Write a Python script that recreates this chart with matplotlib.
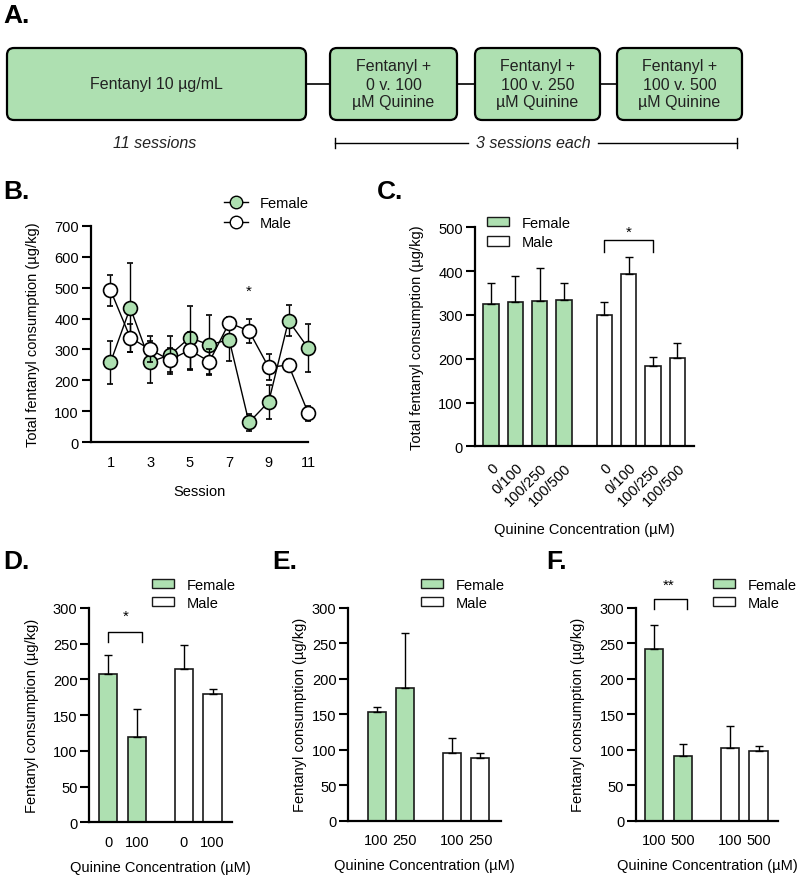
import matplotlib
matplotlib.use("Agg")
import matplotlib.pyplot as plt
from matplotlib.patches import FancyBboxPatch, Patch
from matplotlib.lines import Line2D
import numpy as np

plt.rcParams['font.family'] = ['Liberation Sans', 'DejaVu Sans']

# ---------------- data ----------------
sessions = [1, 2, 3, 4, 5, 6, 7, 8, 9, 10, 11]
b_female = [258, 435, 260, 282, 338, 315, 332, 64, 131, 393, 304]
b_female_sem = [68, 143, 68, 60, 103, 95, 70, 28, 55, 50, 78]
b_male = [492, 338, 300, 266, 298, 261, 386, 360, 242, 250, 94]
b_male_sem = [50, 45, 42, 40, 60, 42, 20, 40, 42, 20, 24]

c_labels = ['0', '0/100', '100/250', '100/500']
c_female = [326, 329, 332, 334]
c_female_sem = [47, 60, 74, 38]
c_male = [299, 394, 184, 201]
c_male_sem = [30, 39, 19, 35]

d_labels = ['0', '100']
d_female = [208, 119]
d_female_sem = [26, 40]
d_male = [215, 179]
d_male_sem = [33, 8]

e_labels = ['100', '250']
e_female = [153, 187]
e_female_sem = [8, 78]
e_male = [95, 88]
e_male_sem = [21, 8]

f_labels = ['100', '500']
f_female = [242, 91]
f_female_sem = [34, 17]
f_male = [102, 98]
f_male_sem = [32, 7]

timeline_boxes = ['Fentanyl 10 \u00b5g/mL',
                  'Fentanyl +\n0 v. 100\n\u00b5M Quinine',
                  'Fentanyl +\n100 v. 250\n\u00b5M Quinine',
                  'Fentanyl +\n100 v. 500\n\u00b5M Quinine']

GREEN = '#aee0b1'
W, H = 800, 878
fig = plt.figure(figsize=(W / 100, H / 100), dpi=100)


def px_axes(left, top, right, bottom):
    return fig.add_axes([left / W, 1 - bottom / H, (right - left) / W, (bottom - top) / H])


def fig_xy(x, y):
    return (x / W, 1 - y / H)


LETTER_FONT = ['Liberation Sans Narrow', 'Liberation Sans', 'DejaVu Sans']


def letter(x, y, s):
    fig.text(x / W, 1 - y / H, s, fontsize=19, fontweight='bold', family=LETTER_FONT,
             ha='left', va='baseline')


def style_axes(ax):
    for s in ['top', 'right']:
        ax.spines[s].set_visible(False)
    for s in ['left', 'bottom']:
        ax.spines[s].set_linewidth(1.6)
    ax.tick_params(axis='y', length=6.5, width=1.5, direction='out', pad=2, labelsize=10.5)
    ax.tick_params(axis='x', length=0, labelsize=10.5)


def place_ylabel(ax, text, x_px, left_px, right_px):
    ax.set_ylabel(text, fontsize=10.5)
    ax.yaxis.set_label_coords((x_px - left_px) / (right_px - left_px), 0.5)
    ax.yaxis.label.set_va('center')


# ---------------- Panel A: timeline ----------------
axA = fig.add_axes([0, 1 - 160 / H, 1, 160 / H])
axA.set_xlim(0, 800)
axA.set_ylim(160, 0)
axA.axis('off')
box_x = [(7, 306), (330, 457), (475, 600), (617, 742)]
top_y, bot_y = 49, 121
for (x0, x1), txt in zip(box_x, timeline_boxes):
    p = FancyBboxPatch((x0, top_y), x1 - x0, bot_y - top_y,
                       boxstyle='round,pad=0,rounding_size=7',
                       facecolor=GREEN, edgecolor='black', linewidth=1.6, zorder=2)
    axA.add_patch(p)
    axA.text((x0 + x1) / 2, (top_y + bot_y) / 2, txt, ha='center', va='center',
             fontsize=11.5, linespacing=1.25, color='#222222', zorder=3)
for i in range(3):
    axA.plot([box_x[i][1], box_x[i + 1][0]], [85, 85], color='black', lw=1.2, zorder=1)
axA.text(155, 144, '11 sessions', style='italic', fontsize=11.5, ha='center', va='center',
         color='#222222')
axA.plot([335, 468], [144, 144], color='black', lw=1)
axA.plot([598, 737], [144, 144], color='black', lw=1)
axA.plot([335, 335], [139, 149], color='black', lw=1)
axA.plot([737, 737], [139, 149], color='black', lw=1)
axA.text(533, 144, '3 sessions each', style='italic', fontsize=11.5, ha='center', va='center',
         color='#222222')
letter(3, 23, 'A.')

# ---------------- Panel B: line chart ----------------
bL, bT, bR, bB = 90.7, 226.7, 308.3, 443.3
axB = px_axes(bL, bT, bR, bB)
style_axes(axB)
axB.errorbar(sessions, b_female, yerr=b_female_sem, color='black', lw=1, capsize=2.5,
             elinewidth=1, capthick=1, marker='o', markersize=10, markerfacecolor=GREEN,
             markeredgecolor='black', markeredgewidth=1.2, zorder=3, clip_on=False)
axB.errorbar(sessions, b_male, yerr=b_male_sem, color='black', lw=1, capsize=2.5,
             elinewidth=1, capthick=1, marker='o', markersize=10, markerfacecolor='white',
             markeredgecolor='black', markeredgewidth=1.2, zorder=4, clip_on=False)
axB.set_xlim(0, 11)
axB.set_ylim(0, 700)
axB.set_yticks(range(0, 701, 100))
axB.set_xticks([1, 3, 5, 7, 9, 11])
axB.tick_params(axis='x', pad=9)
axB.set_xlabel('Session', fontsize=10.5, labelpad=11)
place_ylabel(axB, 'Total fentanyl consumption (\u00b5g/kg)', 33, bL, bR)
axB.text(8, 490, '*', ha='center', va='center', fontsize=11)
hB = [Line2D([0], [0], color='black', lw=1, marker='o', markersize=9,
             markerfacecolor=GREEN, markeredgecolor='black'),
      Line2D([0], [0], color='black', lw=1, marker='o', markersize=9,
             markerfacecolor='white', markeredgecolor='black')]
fig.legend(hB, ['Female', 'Male'], loc='upper left', bbox_to_anchor=fig_xy(224, 197),
           frameon=False, fontsize=10.5, handlelength=1.65, handletextpad=0.8,
           borderpad=0, borderaxespad=0, labelspacing=0.4)
letter(3, 199, 'B.')


# ---------------- bar helpers ----------------
def bar_panel(ax, pos_f, pos_m, fv, fs, mv, ms, labels, xlim, yticks, width=0.64):
    style_axes(ax)
    ek = dict(elinewidth=1, capthick=1, ecolor='black')
    ax.bar(pos_f, fv, width=width, color=GREEN, edgecolor='#1a1a1a', linewidth=1.2,
           yerr=[np.zeros(len(fv)), fs], capsize=3, error_kw=ek, zorder=2)
    ax.bar(pos_m, mv, width=width, color='white', edgecolor='#1a1a1a', linewidth=1.2,
           yerr=[np.zeros(len(mv)), ms], capsize=3, error_kw=ek, zorder=2)
    ax.set_xlim(*xlim)
    ax.set_ylim(yticks[0], yticks[-1])
    ax.set_yticks(yticks)
    ax.set_xticks(list(pos_f) + list(pos_m))
    ax.set_xticklabels(list(labels) + list(labels))


def bar_legend(x, y, spacing):
    hs = [Patch(facecolor=GREEN, edgecolor='#1a1a1a', linewidth=1.0),
          Patch(facecolor='white', edgecolor='#1a1a1a', linewidth=1.0)]
    fig.legend(hs, ['Female', 'Male'], loc='upper left', bbox_to_anchor=fig_xy(x, y),
               frameon=False, fontsize=10.5, handlelength=1.5, handleheight=0.6,
               handletextpad=0.9, borderpad=0, borderaxespad=0, labelspacing=spacing)


def bracket(ax, x0, x1, ytop, ybot, star, ystar, xstar=None):
    ax.plot([x0, x0, x1, x1], [ybot, ytop, ytop, ybot], color='black', lw=1, clip_on=False)
    if xstar is None:
        xstar = (x0 + x1) / 2
    ax.text(xstar, ystar, star, ha='center', va='center', fontsize=11)


# ---------------- Panel C ----------------
cL, cT, cR, cB = 474.7, 228.3, 694, 447.3
axC = px_axes(cL, cT, cR, cB)
bar_panel(axC, [0, 1, 2, 3], [4.65, 5.65, 6.65, 7.65], c_female, c_female_sem,
          c_male, c_male_sem, c_labels, (-0.67, 8.33), list(range(0, 501, 100)), width=0.63)
plt.setp(axC.get_xticklabels(), rotation=45, ha='right', rotation_mode='anchor')
axC.tick_params(axis='x', pad=10)
axC.set_xlabel('Quinine Concentration (\u00b5M)', fontsize=10.5, labelpad=10)
place_ylabel(axC, 'Total fentanyl consumption (\u00b5g/kg)', 417, cL, cR)
bracket(axC, 4.65, 6.65, 470, 444, '*', 490)
bar_legend(487, 217, 0.35)
letter(377, 199, 'C.')

# ---------------- Panel D ----------------
dL, dT, dR, dB = 89.3, 609, 232.3, 823.3
axD = px_axes(dL, dT, dR, dB)
bar_panel(axD, [0, 1], [2.65, 3.65], d_female, d_female_sem, d_male, d_male_sem,
          d_labels, (-0.66, 4.34), list(range(0, 301, 50)))
axD.tick_params(axis='x', pad=9)
axD.set_xlabel('Quinine Concentration (\u00b5M)', fontsize=10.5, labelpad=8)
place_ylabel(axD, 'Fentanyl consumption (\u00b5g/kg)', 32, dL, dR)
bracket(axD, 0, 1.2, 267, 252, '*', 289, xstar=0.6)
bar_legend(152, 579, 0.25)
letter(3, 569, 'D.')

# ---------------- Panel E ----------------
eL, eT, eR, eB = 348.3, 609, 500.7, 821.7
axE = px_axes(eL, eT, eR, eB)
bar_panel(axE, [0, 1], [2.66, 3.66], e_female, e_female_sem, e_male, e_male_sem,
          e_labels, (-1.0, 4.38), list(range(0, 301, 50)))
axE.tick_params(axis='x', pad=9)
axE.set_xlabel('Quinine Concentration (\u00b5M)', fontsize=10.5, labelpad=8)
place_ylabel(axE, 'Fentanyl consumption (\u00b5g/kg)', 300, eL, eR)
bar_legend(421, 579, 0.25)
letter(272, 569, 'E.')

# ---------------- Panel F ----------------
fL, fT, fR, fB = 636, 609, 778.3, 821.7
axF = px_axes(fL, fT, fR, fB)
bar_panel(axF, [0, 1], [2.65, 3.65], f_female, f_female_sem, f_male, f_male_sem,
          f_labels, (-0.64, 4.34), list(range(0, 301, 50)))
axF.tick_params(axis='x', pad=9)
axF.set_xlabel('Quinine Concentration (\u00b5M)', fontsize=10.5, labelpad=8)
place_ylabel(axF, 'Fentanyl consumption (\u00b5g/kg)', 578, fL, fR)
bracket(axF, 0, 1.16, 313, 298, '**', 333, xstar=0.5)
bar_legend(713, 579, 0.25)
letter(546, 569, 'F.')

fig.savefig('out.png', dpi=100)
